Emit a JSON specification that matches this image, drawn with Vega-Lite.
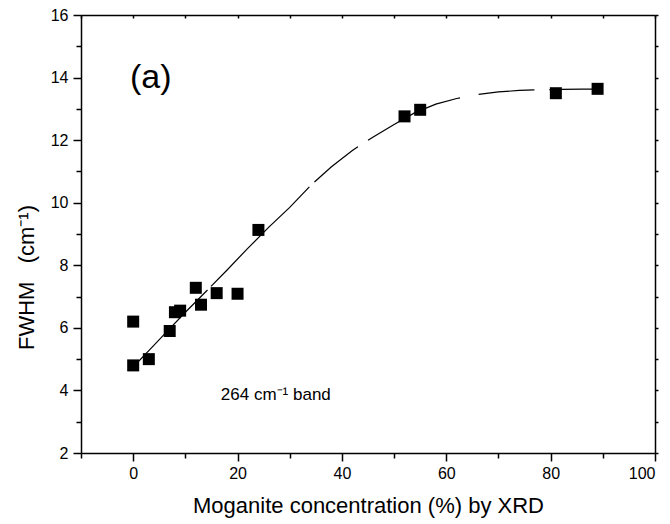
{
  "$schema": "https://vega.github.io/schema/vega-lite/v6.json",
  "width": 574,
  "height": 438,
  "autosize": {"type": "none"},
  "padding": {"left": 81, "top": 15, "right": 15, "bottom": 71},
  "background": "white",
  "config": {
    "view": {"stroke": null},
    "font": "Liberation Sans",
    "axis": {
      "domainColor": "black", "tickColor": "black", "labelColor": "black", "titleColor": "black",
      "domainWidth": 1.5, "tickWidth": 1.5, "labelFont": "Liberation Sans", "titleFont": "Liberation Sans",
      "labelFontSize": 16, "titleFontWeight": "normal", "grid": false
    }
  },
  "datasets": {
    "points": [
      {"conc": 0, "fwhm": 6.2}, {"conc": 0, "fwhm": 4.8}, {"conc": 3, "fwhm": 5.0},
      {"conc": 7, "fwhm": 5.9}, {"conc": 8, "fwhm": 6.5}, {"conc": 9, "fwhm": 6.55},
      {"conc": 12, "fwhm": 7.28}, {"conc": 13, "fwhm": 6.74}, {"conc": 16, "fwhm": 7.11},
      {"conc": 20, "fwhm": 7.09}, {"conc": 24, "fwhm": 9.13}, {"conc": 52, "fwhm": 12.76},
      {"conc": 55, "fwhm": 12.97}, {"conc": 81, "fwhm": 13.5}, {"conc": 89, "fwhm": 13.64}
    ],
    "curve": [
      {"conc": 0, "fwhm": 4.75}, {"conc": 3, "fwhm": 5.27}, {"conc": 6, "fwhm": 5.8},
      {"conc": 10, "fwhm": 6.5}, {"conc": 14, "fwhm": 7.17}, {"conc": 18, "fwhm": 7.85},
      {"conc": 22, "fwhm": 8.55}, {"conc": 26, "fwhm": 9.22}, {"conc": 30, "fwhm": 9.85},
      {"conc": 34, "fwhm": 10.55}, {"conc": 38, "fwhm": 11.15}, {"conc": 42, "fwhm": 11.67},
      {"conc": 46, "fwhm": 12.1}, {"conc": 50, "fwhm": 12.5}, {"conc": 54, "fwhm": 12.88},
      {"conc": 58, "fwhm": 13.15}, {"conc": 62, "fwhm": 13.33}, {"conc": 66, "fwhm": 13.46},
      {"conc": 70, "fwhm": 13.54}, {"conc": 74, "fwhm": 13.59}, {"conc": 78, "fwhm": 13.61},
      {"conc": 82, "fwhm": 13.62}, {"conc": 86, "fwhm": 13.63}, {"conc": 90, "fwhm": 13.63}
    ]
  },
  "layer": [
    {
      "data": {"name": "curve"},
      "mark": {"type": "line", "color": "black", "strokeWidth": 1.2, "strokeDash": [107, 5, 140, 7, 56, 12, 102, 19, 56, 15, 300, 10]},
      "encoding": {
        "x": {"field": "conc", "type": "quantitative", "scale": {"domain": [-10, 100], "nice": false, "zero": false},
          "axis": {"orient": "bottom", "values": [0, 20, 40, 60, 80, 100], "tickSize": 8, "labelPadding": 4,
            "title": "Moganite concentration (%) by XRD", "titleFontSize": 22, "titleY": 59, "titleBaseline": "alphabetic"}},
        "y": {"field": "fwhm", "type": "quantitative", "scale": {"domain": [2, 16], "nice": false, "zero": false},
          "axis": {"orient": "left", "values": [2, 4, 6, 8, 10, 12, 14, 16], "tickSize": 8, "labelPadding": 5,
            "title": "FWHM\u00a0\u00a0\u00a0(cm⁻¹)", "titleFontSize": 22, "titleX": -55, "titleY": 262, "titleAlign": "center", "titleBaseline": "middle", "titleAngle": -90}}
      }
    },
    {
      "data": {"name": "points"},
      "mark": {"type": "square", "size": 144, "color": "black", "opacity": 1},
      "encoding": {
        "x": {"field": "conc", "type": "quantitative", "scale": {"domain": [-10, 100], "nice": false, "zero": false},
          "axis": {"orient": "top", "values": [-10, 0, 10, 20, 30, 40, 50, 60, 70, 80, 90, 100], "labels": false, "title": null, "tickSize": -3}},
        "y": {"field": "fwhm", "type": "quantitative", "scale": {"domain": [2, 16], "nice": false, "zero": false},
          "axis": {"orient": "right", "values": [2, 3, 4, 5, 6, 7, 8, 9, 10, 11, 12, 13, 14, 15, 16], "labels": false, "title": null, "tickSize": 3}}
      }
    },
    {
      "data": {"values": [{"conc": -0.6, "fwhm": 14.0, "label": "(a)"}]},
      "mark": {"type": "text", "fontSize": 34, "align": "left", "baseline": "middle", "color": "black", "font": "Liberation Sans"},
      "encoding": {
        "x": {"field": "conc", "type": "quantitative", "scale": {"domain": [-10, 100], "nice": false, "zero": false},
          "axis": {"orient": "bottom", "values": [-10, 10, 30, 50, 70, 90], "labels": false, "title": null, "domain": false, "tickSize": 5}},
        "y": {"field": "fwhm", "type": "quantitative", "scale": {"domain": [2, 16], "nice": false, "zero": false},
          "axis": {"orient": "left", "values": [3, 5, 7, 9, 11, 13, 15], "labels": false, "title": null, "domain": false, "tickSize": 5}},
        "text": {"field": "label"}
      }
    },
    {
      "data": {"values": [{"conc": 16.8, "fwhm": 3.85, "label": "264 cm⁻¹ band"}]},
      "mark": {"type": "text", "fontSize": 17, "align": "left", "baseline": "middle", "color": "black", "font": "Liberation Sans"},
      "encoding": {
        "x": {"field": "conc", "type": "quantitative", "scale": {"domain": [-10, 100], "nice": false, "zero": false}, "axis": null},
        "y": {"field": "fwhm", "type": "quantitative", "scale": {"domain": [2, 16], "nice": false, "zero": false}, "axis": null},
        "text": {"field": "label"}
      }
    }
  ],
  "resolve": {"axis": {"x": "independent", "y": "independent"}}
}
